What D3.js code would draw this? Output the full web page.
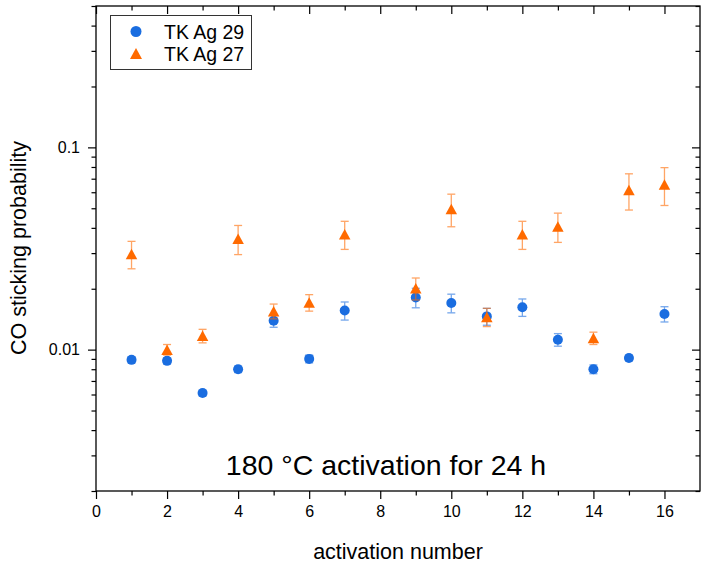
<!DOCTYPE html>
<html>
<head>
<meta charset="utf-8">
<script src="https://cdn.jsdelivr.net/npm/d3@7"></script>
<style>
  html, body { margin: 0; padding: 0; background: #fff; }
  svg { display: block; }
  text { font-family: "Liberation Sans", Arial, sans-serif; fill: #000; }
</style>
</head>
<body>
<svg id="chart" width="705" height="566"></svg>
<script>
// ---- data ----
const activation = [1, 2, 3, 4, 5, 6, 7, 9, 10, 11, 12, 13, 14, 15, 16];
const ag29Values = [0.0089, 0.0088, 0.0061, 0.0080, 0.0139, 0.0090, 0.0156, 0.0181, 0.0170, 0.0146, 0.0162, 0.0112, 0.0080, 0.0091, 0.0150];
const ag29Errors = [0.0003, 0.0003, 0.0002, 0.0003, 0.0010, 0.0004, 0.0016, 0.0020, 0.0018, 0.0014, 0.0016, 0.0008, 0.0004, 0.0003, 0.0013];
const ag27Values = [0.0297, 0.0100, 0.0117, 0.0353, 0.0155, 0.0171, 0.0372, 0.0201, 0.0496, 0.0145, 0.0372, 0.0406, 0.0114, 0.0615, 0.0655];
const ag27Errors = [0.0046, 0.0006, 0.0009, 0.0058, 0.0013, 0.0016, 0.0059, 0.0025, 0.0091, 0.0015, 0.0059, 0.0067, 0.0008, 0.0125, 0.0139];
const seriesNames = ["TK Ag 29", "TK Ag 27"];
const xTickLabels = [0, 2, 4, 6, 8, 10, 12, 14, 16];
const yTickLabels = [0.01, 0.1];
const xTitle = "activation number";
const yTitle = "CO sticking probability";
const annotation = "180 °C activation for 24 h";

// ---- layout ----
const W = 705, H = 566;
const L = 96, R = 700, T = 6, B = 491;
const svg = d3.select("#chart");

const x = d3.scaleLinear().domain([0, 17]).range([L, R]);
const y = d3.scaleLog().domain([0.002, 0.5]).range([B, T]);

const blue = "#1a6de0";
const orange = "#ff6a00";

// minor/major tick values
const xMajor = xTickLabels;
const xMinor = d3.range(1, 17, 2);
const yMajor = yTickLabels;
const yMinor = [];
[0.001, 0.01, 0.1].forEach(dec => {
  for (let k = 2; k <= 9; k++) {
    const v = +(dec * k).toPrecision(3);
    if (v >= 0.002 && v <= 0.5) yMinor.push(v);
  }
});

const MAJ = 8, MIN = 4.5;
const fmtY = d => d === 0.1 ? "0.1" : d === 0.01 ? "0.01" : String(d);

// bottom axis (outward)
const gB = svg.append("g").attr("transform", `translate(0,${B})`)
  .call(d3.axisBottom(x).tickValues(xMajor).tickSize(MAJ).tickPadding(7).tickFormat(d3.format("d")));
svg.append("g").attr("transform", `translate(0,${B})`)
  .call(d3.axisBottom(x).tickValues(xMinor).tickSize(MIN).tickFormat(""));
// top axis (inward)
svg.append("g").attr("transform", `translate(0,${T})`)
  .call(d3.axisBottom(x).tickValues(xMajor).tickSize(MAJ).tickFormat(""));
svg.append("g").attr("transform", `translate(0,${T})`)
  .call(d3.axisBottom(x).tickValues(xMinor).tickSize(MIN).tickFormat(""));
// left axis (outward)
const gL = svg.append("g").attr("transform", `translate(${L},0)`)
  .call(d3.axisLeft(y).tickValues(yMajor).tickSize(MAJ).tickPadding(8).tickFormat(fmtY));
svg.append("g").attr("transform", `translate(${L},0)`)
  .call(d3.axisLeft(y).tickValues(yMinor).tickSize(MIN).tickFormat(""));
// right axis (inward)
svg.append("g").attr("transform", `translate(${R},0)`)
  .call(d3.axisLeft(y).tickValues(yMajor).tickSize(MAJ).tickFormat(""));
svg.append("g").attr("transform", `translate(${R},0)`)
  .call(d3.axisLeft(y).tickValues(yMinor).tickSize(MIN).tickFormat(""));

svg.selectAll(".domain").remove();
svg.selectAll(".tick line").attr("stroke", "#000").attr("stroke-width", 1.2);
svg.selectAll(".tick text").attr("font-size", 16).attr("fill", "#000")
  .style("font-family", '"Liberation Sans", Arial, sans-serif');

// frame
svg.append("rect").attr("x", L).attr("y", T).attr("width", R - L).attr("height", B - T)
  .attr("fill", "none").attr("stroke", "#000").attr("stroke-width", 1.3);

// titles
svg.append("text").attr("x", (L + R) / 2).attr("y", 559).attr("text-anchor", "middle")
  .attr("font-size", 21.5).text(xTitle);
svg.append("text").attr("transform", `translate(26,${248}) rotate(-90)`).attr("text-anchor", "middle")
  .attr("font-size", 21.5).text(yTitle);

// annotation
svg.append("text").attr("x", 386).attr("y", 475).attr("text-anchor", "middle")
  .attr("font-size", 28.5).text(annotation);

// series drawing
const triPath = (cx, cy, w, h) =>
  `M${cx},${cy - h / 2}L${cx + w / 2},${cy + h / 2}L${cx - w / 2},${cy + h / 2}Z`;

function drawErrors(vals, errs, color) {
  const g = svg.append("g").attr("stroke", color).attr("stroke-width", 1.3).attr("opacity", 0.6);
  activation.forEach((a, i) => {
    const cx = x(a), y1 = y(vals[i] + errs[i]), y0 = y(vals[i] - errs[i]);
    g.append("line").attr("x1", cx).attr("x2", cx).attr("y1", y1).attr("y2", y0);
    g.append("line").attr("x1", cx - 4).attr("x2", cx + 4).attr("y1", y1).attr("y2", y1);
    g.append("line").attr("x1", cx - 4).attr("x2", cx + 4).attr("y1", y0).attr("y2", y0);
  });
}

// TK Ag 29 (blue circles)
drawErrors(ag29Values, ag29Errors, blue);
svg.append("g").selectAll("circle").data(activation).join("circle")
  .attr("cx", d => x(d)).attr("cy", (d, i) => y(ag29Values[i])).attr("r", 5)
  .attr("fill", blue);

// TK Ag 27 (orange triangles)
drawErrors(ag27Values, ag27Errors, orange);
svg.append("g").selectAll("path").data(activation).join("path")
  .attr("d", (d, i) => triPath(x(d), y(ag27Values[i]), 11.5, 10.5))
  .attr("fill", orange);

// legend
const lg = svg.append("g");
lg.append("rect").attr("x", 110.5).attr("y", 15.5).attr("width", 141).attr("height", 54)
  .attr("fill", "#fff").attr("stroke", "#333").attr("stroke-width", 1);
lg.append("circle").attr("cx", 136).attr("cy", 31.5).attr("r", 5.5).attr("fill", blue);
lg.append("path").attr("d", triPath(136, 53.5, 12, 11)).attr("fill", orange);
lg.append("text").attr("x", 164).attr("y", 38.5).attr("font-size", 19.5).text(seriesNames[0]);
lg.append("text").attr("x", 164).attr("y", 60.5).attr("font-size", 19.5).text(seriesNames[1]);
</script>
</body>
</html>
